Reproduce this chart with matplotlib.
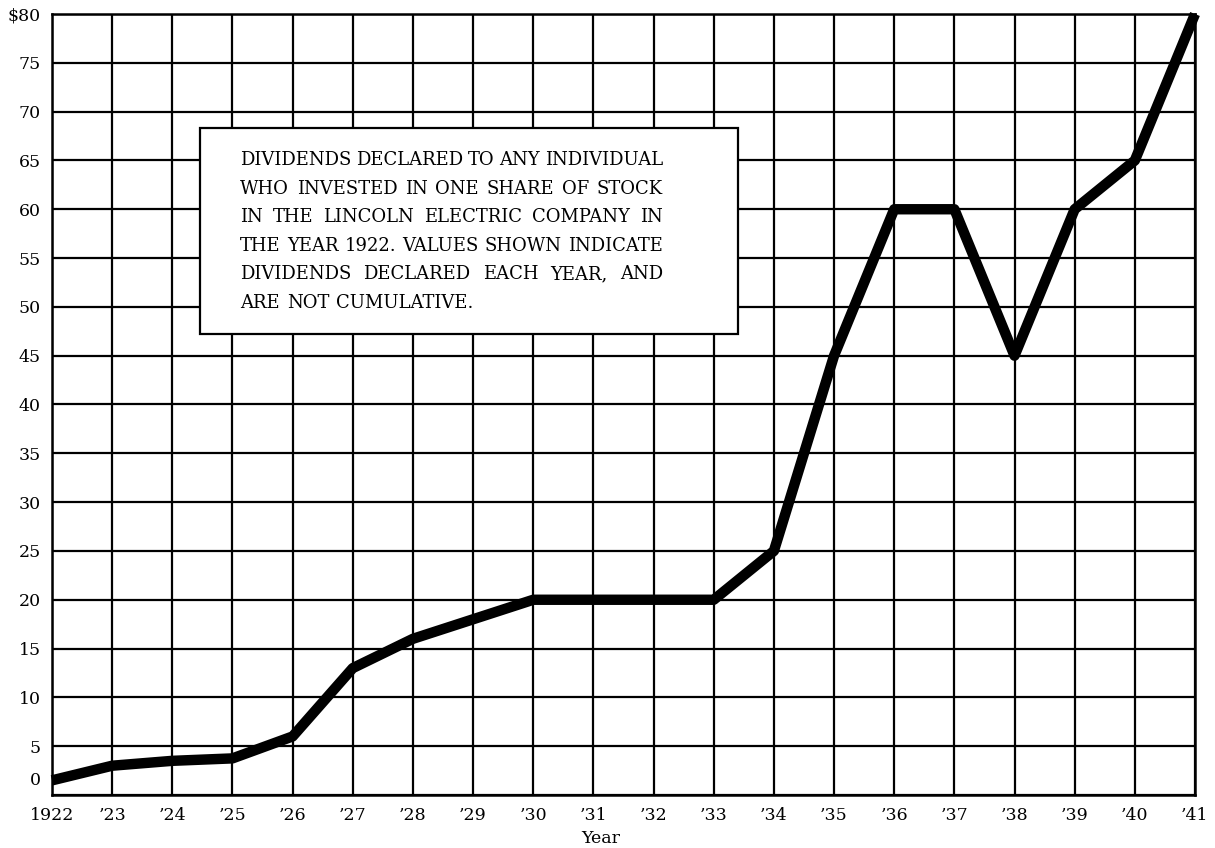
import matplotlib.pyplot as plt
from matplotlib.patches import Rectangle
from matplotlib.transforms import ScaledTranslation

# Dividends declared per year on one share bought in 1922
years = list(range(1922, 1942))
dividends = [1.5, 3.0, 3.5, 3.75, 6.0, 13, 16, 18, 20, 20, 20, 20,
             25, 45, 60, 60, 45, 60, 65, 80]

xtick_labels = ["1922"] + ["\u2019%02d" % (y % 100) for y in years[1:]]
ytick_values = list(range(0, 85, 5))
ytick_labels = [str(v) for v in ytick_values[:-1]] + ["$80"]

note_lines = [
    "DIVIDENDS DECLARED TO ANY INDIVIDUAL",
    "WHO INVESTED IN ONE SHARE OF STOCK",
    "IN THE LINCOLN ELECTRIC COMPANY IN",
    "THE YEAR 1922.  VALUES SHOWN INDICATE",
    "DIVIDENDS DECLARED EACH YEAR, AND",
    "ARE NOT CUMULATIVE.",
]

plt.rcParams["font.family"] = ["DejaVu Serif"]

fig = plt.figure(figsize=(12.15, 8.48), dpi=100)
ax = fig.add_axes([52 / 1215, 1 - 795 / 848, 1143 / 1215, 781 / 848])

ax.plot(years, dividends, color="black", linewidth=7.5,
        solid_joinstyle="round", solid_capstyle="butt", zorder=5, clip_on=False)

ax.set_xlim(1922, 1941)
ax.set_ylim(0, 80)
ax.set_xticks(years)
ax.set_xticklabels(xtick_labels, fontsize=12.5)
ax.set_yticks(ytick_values)
ax.set_yticklabels(ytick_labels, fontsize=12.5)
ax.tick_params(length=0, pad=9)
ax.tick_params(axis="y", pad=8)
ax.grid(True, color="black", linewidth=1.6)
ax.set_axisbelow(True)
for sp in ax.spines.values():
    sp.set_linewidth(1.8)

# "0" label sits a bit above the bottom line in the original
zero = ax.get_yticklabels()[0]
zero.set_transform(zero.get_transform() + ScaledTranslation(0, 12 / 72, fig.dpi_scale_trans))

ax.set_xlabel("Year", fontsize=12.5)
ax.xaxis.set_label_coords(0.48, -0.045)

# note box
box = Rectangle((1924.46, 47.2), 8.94, 21.1, facecolor="white",
                edgecolor="black", linewidth=1.6, zorder=6)
ax.add_patch(box)

# justified text inside the box
fig.canvas.draw()
renderer = fig.canvas.get_renderer()
left_px, right_px = 240, 663
top_px, step_px = 165, 28.6
fs = 13
for i, line in enumerate(note_lines):
    base_y = 1 - (top_px + i * step_px) / 848
    words = line.split()
    texts = [fig.text(0, base_y, w, fontsize=fs, va="baseline", zorder=7) for w in words]
    widths = [t.get_window_extent(renderer).width for t in texts]
    if i < len(note_lines) - 1 and len(words) > 1:
        gap = (right_px - left_px - sum(widths)) / (len(words) - 1)
    else:
        gap = renderer.points_to_pixels(fs) * 0.4
    x = left_px
    for t, w in zip(texts, widths):
        t.set_x(x / 1215)
        x += w + gap

fig.savefig("out.png", dpi=100)
